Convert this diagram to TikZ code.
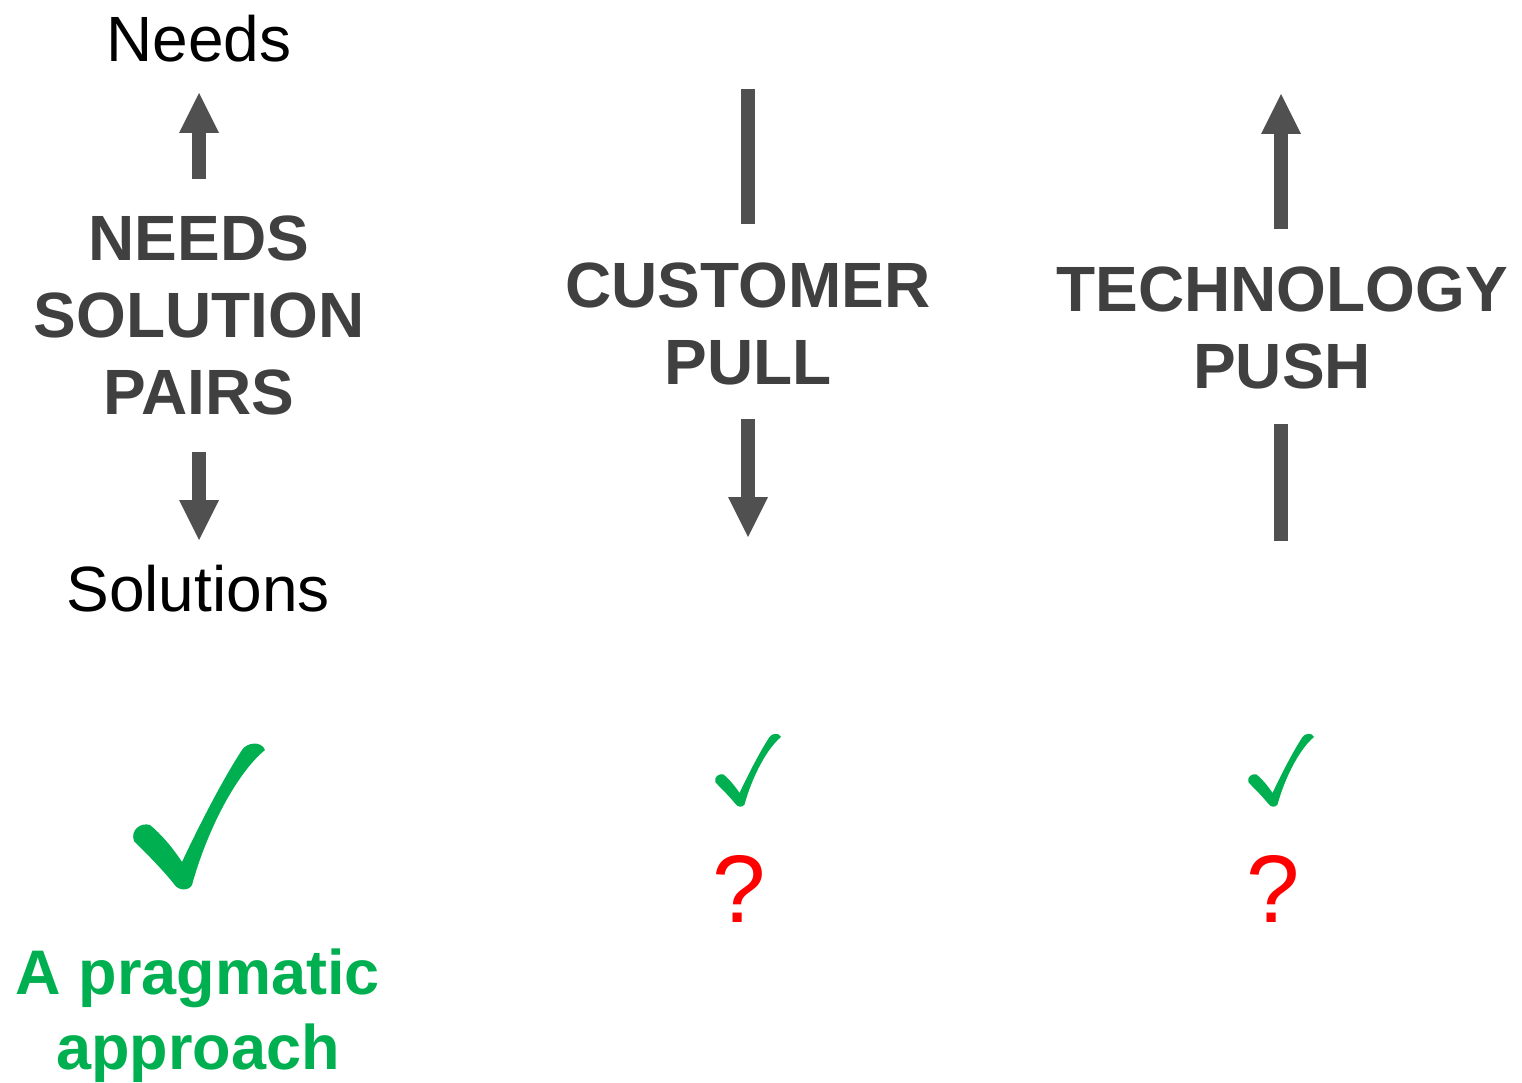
\documentclass[tikz,border=0pt]{standalone}
\usepackage{fontspec}
\setmainfont{Liberation Sans}
\usetikzlibrary{arrows.meta}
\definecolor{labelgray}{HTML}{404040}
\definecolor{arrowgray}{HTML}{505050}
\definecolor{okgreen}{HTML}{00B050}
\definecolor{askred}{HTML}{FF0000}

\begin{document}
\begin{tikzpicture}[x=1pt,y=-1pt,
  every node/.style={inner sep=0pt, anchor=base},
  plain/.style={font=\fontsize{64}{76}\selectfont, text=black},
  caps/.style={font=\fontsize{64}{77}\selectfont\bfseries, text=labelgray},
  verdict/.style={font=\fontsize{63}{70}\selectfont\bfseries, text=okgreen},
  query/.style={font=\fontsize{96}{110}\selectfont, text=askred},
  flow/.style={draw=arrowgray, line width=13.5pt,
    -{Triangle[width=40pt,length=40pt,line width=0pt]}},
  bar/.style={draw=arrowgray, line width=13.5pt},
  tick/.pic={
    \fill[okgreen] (17,83) .. controls (28,92) and (40,106) .. (49,120)
      .. controls (63,90) and (88,40) .. (109,8)
      .. controls (113,1) and (128,-2) .. (132,8)
      .. controls (105,30) and (75,85) .. (59,143)
      .. controls (56,149) and (45,149) .. (41,142)
      .. controls (30,128) and (12,110) .. (1,99)
      .. controls (-3,88) and (8,80) .. (17,83) -- cycle;
  }
]
\useasboundingbox (0,0) rectangle (1522,1083);

% left column: needs / solution pairs
\node[plain] (needs) at (199,62) {Needs};
\node[caps] (nsp1) at (199,260) {NEEDS};
\node[caps] (nsp2) at (199,337) {SOLUTION};
\node[caps] (nsp3) at (199,414) {PAIRS};
\node[plain] (solutions) at (198,611) {Solutions};
\coordinate (nspUpFrom) at (199,179);
\coordinate (nspUpTo) at (199,93);
\coordinate (nspDownFrom) at (199,452);
\coordinate (nspDownTo) at (199,540);
\draw[flow] (nspUpFrom) -- (nspUpTo);
\draw[flow] (nspDownFrom) -- (nspDownTo);

% middle column: customer pull
\node[caps] (cp1) at (748,307) {CUSTOMER};
\node[caps] (cp2) at (748,384) {PULL};
\coordinate (cpBarTop) at (748,89);
\coordinate (cpBarBottom) at (748,224);
\coordinate (cpDownFrom) at (748,419);
\coordinate (cpDownTo) at (748,537);
\draw[bar] (cpBarTop) -- (cpBarBottom);
\draw[flow] (cpDownFrom) -- (cpDownTo);

% right column: technology push
\node[caps] (tp1) at (1282,311) {TECHNOLOGY};
\node[caps] (tp2) at (1282,388) {PUSH};
\coordinate (tpUpFrom) at (1281,229);
\coordinate (tpUpTo) at (1281,94);
\coordinate (tpBarTop) at (1281,424);
\coordinate (tpBarBottom) at (1281,541);
\draw[flow] (tpUpFrom) -- (tpUpTo);
\draw[bar] (tpBarTop) -- (tpBarBottom);

% verdicts
\pic at (133,742) {tick};
\node[verdict] (prag1) at (198,994) {A pragmatic};
\node[verdict] (prag2) at (198,1069) {approach};

\pic[scale=0.5] at (715,733) {tick};
\node[query] (cpQuery) at (739,922) {?};

\pic[scale=0.5] at (1248,733) {tick};
\node[query] (tpQuery) at (1273,922) {?};
\end{tikzpicture}
\end{document}
